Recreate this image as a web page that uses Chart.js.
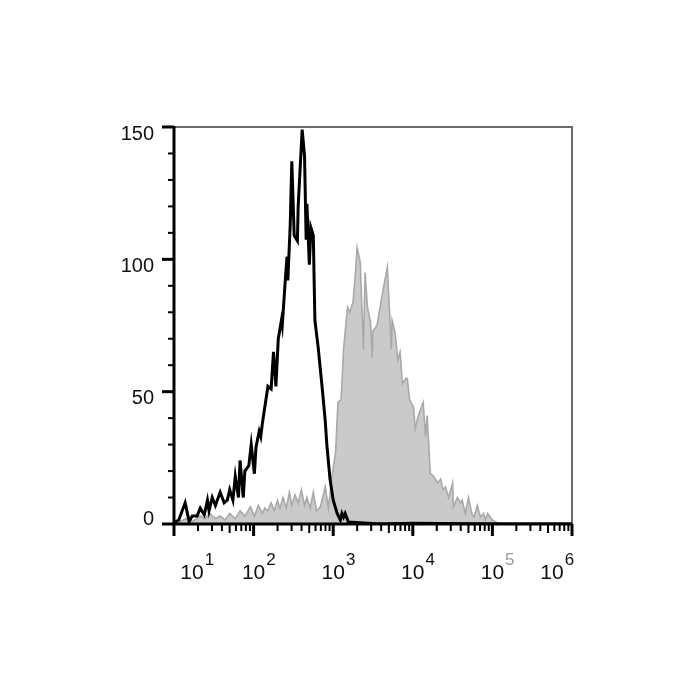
<!DOCTYPE html>
<html>
<head>
<meta charset="utf-8">
<script src="https://cdn.jsdelivr.net/npm/chart.js@4/dist/chart.umd.min.js"></script>
<style>
    body{ margin:0; background:#fff; }
    #grafico{ display:block; }
</style>
</head>
<body>
<canvas id="grafico" width="700" height="700"></canvas>
<script>
const blackDecades=[1.00,1.06,1.14,1.19,1.23,1.29,1.33,1.38,1.42,1.44,1.48,1.52,1.58,1.63,1.67,1.70,1.74,1.77,1.81,1.83,
    1.87,1.89,1.94,1.97,2.01,2.03,2.07,2.09,2.11,2.15,2.18,2.22,2.25,2.28,2.31,2.35,2.36,2.40,2.42,2.43,
    2.46,2.48,2.51,2.55,2.56,2.61,2.64,2.66,2.67,2.70,2.72,2.75,2.77,2.81,2.86,2.90,2.92,2.96,3.00,3.05,
    3.09,3.11,3.13,3.15,3.19,3.34,3.60,4.00,5.00,6.00];
const blackCounts=[0.5,1.5,8,1,3,3,6,3.5,9,5,10,7,12,8,9,13,9,18,10,24,
    10,20,22,30,19,29,35,33,38,46,52,51,65,52,70,77,75,93,101,92,
    113,137,109,107,120,149,139,108,121,98,112,109,77,67,52,39,30,17,9,4,
    1.5,4,2.6,4,0.8,0.5,0,0.3,0,0];

const grayDecades=[1.00,1.08,1.15,1.23,1.33,1.39,1.45,1.52,1.58,1.64,1.70,1.77,1.83,1.89,1.96,2.01,2.06,2.11,2.14,2.18,
    2.22,2.26,2.30,2.33,2.37,2.41,2.45,2.48,2.52,2.56,2.60,2.64,2.67,2.71,2.75,2.79,2.84,2.90,2.94,2.99,
    3.03,3.06,3.10,3.13,3.18,3.21,3.25,3.28,3.30,3.34,3.36,3.38,3.40,3.43,3.47,3.49,3.50,3.55,3.59,3.63,
    3.68,3.70,3.73,3.74,3.78,3.81,3.84,3.87,3.91,3.93,3.96,4.01,4.03,4.07,4.13,4.16,4.18,4.22,4.26,4.31,
    4.35,4.38,4.41,4.45,4.50,4.51,4.56,4.60,4.62,4.66,4.70,4.74,4.77,4.81,4.85,4.89,4.91,4.94,5.00,5.06,
    5.23,6.00];
const grayCounts=[0,1,2,1,3,2,4,2,3,1.5,4,2,5,3,6.5,3,7,4,6,5,
    8,5,9,6,10,6,12,7,11,8,13,7,10,6,12,5,6.5,14,6,19,
    27,46,47,66,82,80,84,95,104.5,99,82,66,95,82,76,63,73,75,82,89,
    97,85,66,77,72,62,65,53,55,55,47,44,36,41,46,33,41,19,18,15.5,
    17,13,14,10,15.5,6.5,10,8,9,4,10,4,2.6,7,2.6,4,1.5,4,1.5,0.5,
    0,0];

const decadeLabels=[1,2,3,4,5,6];
const yTicks=[0,50,100,150];

function puntos(decadas, cuentas){
    let lista=[];
    for(var i=0; i<decadas.length; i++){
        lista.push({x: Math.pow(10, decadas[i]), y: cuentas[i]});
    }
    return lista;
}

// ejes, marcas y etiquetas dibujados encima de los datos
const ejesPlugin={
    id: 'ejes',
    afterDatasetsDraw(chart){
        const ctx=chart.ctx;
        const area=chart.chartArea;
        const sx=chart.scales.x;
        const sy=chart.scales.y;
        ctx.save();
        ctx.lineCap='butt';

        // borde superior y derecho
        ctx.strokeStyle='#6a6a6a';
        ctx.lineWidth=2;
        ctx.beginPath();
        ctx.moveTo(area.left, area.top);
        ctx.lineTo(area.right, area.top);
        ctx.lineTo(area.right, area.bottom);
        ctx.stroke();

        // ejes izquierdo e inferior
        ctx.strokeStyle='#000';
        ctx.lineWidth=3;
        ctx.beginPath();
        ctx.moveTo(area.left, area.top-1);
        ctx.lineTo(area.left, area.bottom);
        ctx.lineTo(area.right, area.bottom);
        ctx.stroke();

        // marcas eje y
        for(let v=0; v<=150; v+=10){
            let py=sy.getPixelForValue(v);
            let mayor=(v%50===0);
            ctx.lineWidth=mayor ? 3 : 2;
            ctx.beginPath();
            ctx.moveTo(area.left-(mayor ? 12 : 6), py);
            ctx.lineTo(area.left, py);
            ctx.stroke();
        }
        ctx.fillStyle='#111';
        ctx.font='20px "Liberation Sans", Arial, sans-serif';
        ctx.textAlign='right';
        ctx.textBaseline='middle';
        yTicks.forEach(v => {
            let py=sy.getPixelForValue(v)+(v===0 ? -5 : 7);
            ctx.fillText(String(v), area.left-20, py);
        });

        // marcas eje x
        for(let d=1; d<=6; d++){
            for(let m=1; m<=9; m++){
                if(d===6 && m>1) break;
                let px=sx.getPixelForValue(m*Math.pow(10, d));
                let largo=(m===1) ? 12 : (m===5 ? 9 : 7);
                ctx.lineWidth=(m===1) ? 3 : 2;
                ctx.beginPath();
                ctx.moveTo(px, area.bottom);
                ctx.lineTo(px, area.bottom+largo);
                ctx.stroke();
            }
        }

        // etiquetas 10^n
        decadeLabels.forEach(n => {
            let px=sx.getPixelForValue(Math.pow(10, n));
            if(n===1) px+=18;
            if(n===6) px-=20;
            ctx.font='21px "Liberation Sans", Arial, sans-serif';
            ctx.textAlign='center';
            ctx.textBaseline='alphabetic';
            ctx.fillStyle='#111';
            ctx.fillText('10', px, 579);
            let ancho=ctx.measureText('10').width;
            ctx.font='17px "Liberation Sans", Arial, sans-serif';
            ctx.textAlign='left';
            ctx.fillStyle=(n===5) ? '#9a9a9a' : '#111';
            ctx.fillText(String(n), px+ancho/2+1, 565);
        });
        ctx.restore();
    }
};

const ctx=document.getElementById('grafico');
const myChart=new Chart(ctx, {
    type: 'line',
    data: {
        datasets: [{
            label: 'control',
            data: puntos(blackDecades, blackCounts),
            borderColor: '#000',
            borderWidth: 3,
            fill: false,
            pointRadius: 0,
            tension: 0
        },{
            label: 'muestra',
            data: puntos(grayDecades, grayCounts),
            borderColor: '#a9a9a9',
            backgroundColor: '#cacaca',
            borderWidth: 1.6,
            fill: 'origin',
            pointRadius: 0,
            tension: 0
        }]
    },
    options: {
        responsive: false,
        animation: false,
        layout: {
            padding: {left: 174, right: 128, top: 127, bottom: 176}
        },
        plugins: {
            legend: {display: false},
            tooltip: {enabled: false}
        },
        scales: {
            x: {
                type: 'logarithmic',
                min: 10,
                max: 1000000,
                display: false
            },
            y: {
                min: 0,
                max: 150,
                display: false
            }
        }
    },
    plugins: [ejesPlugin]
});
</script>
</body>
</html>
